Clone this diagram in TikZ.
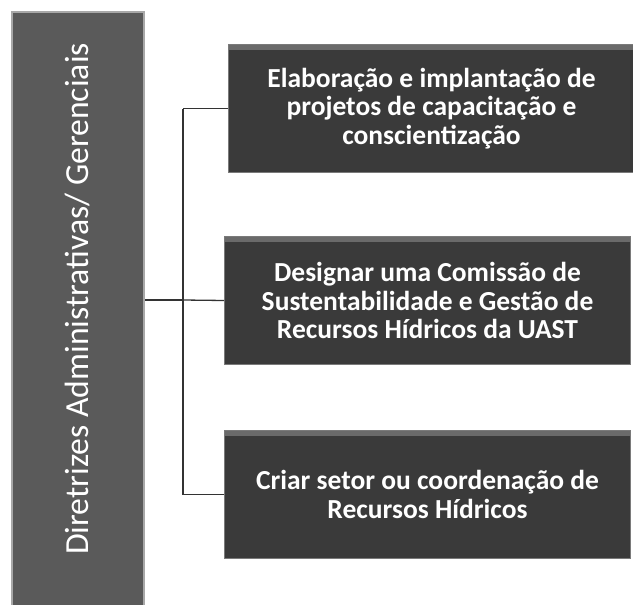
\documentclass[tikz,border=0pt]{standalone}
\usepackage{fontspec}
\setmainfont{Carlito}
\definecolor{barfill}{HTML}{5A5A5A}
\definecolor{barline}{HTML}{A8A8A8}
\definecolor{boxfill}{HTML}{3A3A3A}
\definecolor{boxline}{HTML}{7A7A7A}
\definecolor{bevel}{HTML}{6A6A6A}
\definecolor{conn}{HTML}{333333}
\begin{document}
\begin{tikzpicture}[x=1pt,y=-1pt,
  barbox/.style={draw=barline,line width=2pt,fill=barfill,minimum width=132pt,minimum height=598pt,inner sep=0pt,anchor=north west},
  itembox/.style={draw=boxline,line width=1pt,fill=boxfill,minimum width=406pt,minimum height=128pt,inner sep=0pt,anchor=north west,
     align=center,text=white,font=\bfseries\fontsize{27.5}{28.5}\selectfont},
  connline/.style={draw=conn,line width=1.3pt}]
\useasboundingbox (0,0) rectangle (633,605);
\node[barbox] (bar) at (11,11) {};
\node[text=white,rotate=90,font=\fontsize{33.7}{36}\selectfont] (bartext) at (78,299) {Diretrizes Administrativas/ Gerenciais};
\node[itembox] (b1) at (228,44) {Elaboração e implantação de\\ projetos de capacitação e\\ conscientização};
\node[itembox] (b2) at (224,236) {Designar uma Comissão de\\ Sustentabilidade e Gestão de\\ Recursos Hídricos da UAST};
\node[itembox] (b3) at (224,430) {Criar setor ou coordenação de\\ Recursos Hídricos};
\foreach \b in {b1,b2,b3}{
  \fill[bevel] ([shift={(1,1)}]\b.north west) rectangle ([shift={(-1,6)}]\b.north east);
}
\coordinate (j) at (183,300);
\draw[connline] (bar.east |- j) -- (j);
\draw[connline] (j |- b1.west) -- (b1.west);
\draw[connline] (j |- b3.west) -- (b3.west);
\draw[connline] (j |- b1.west) -- (j |- b3.west);
\draw[connline] (j) -- (b2.west);
\end{tikzpicture}
\end{document}
